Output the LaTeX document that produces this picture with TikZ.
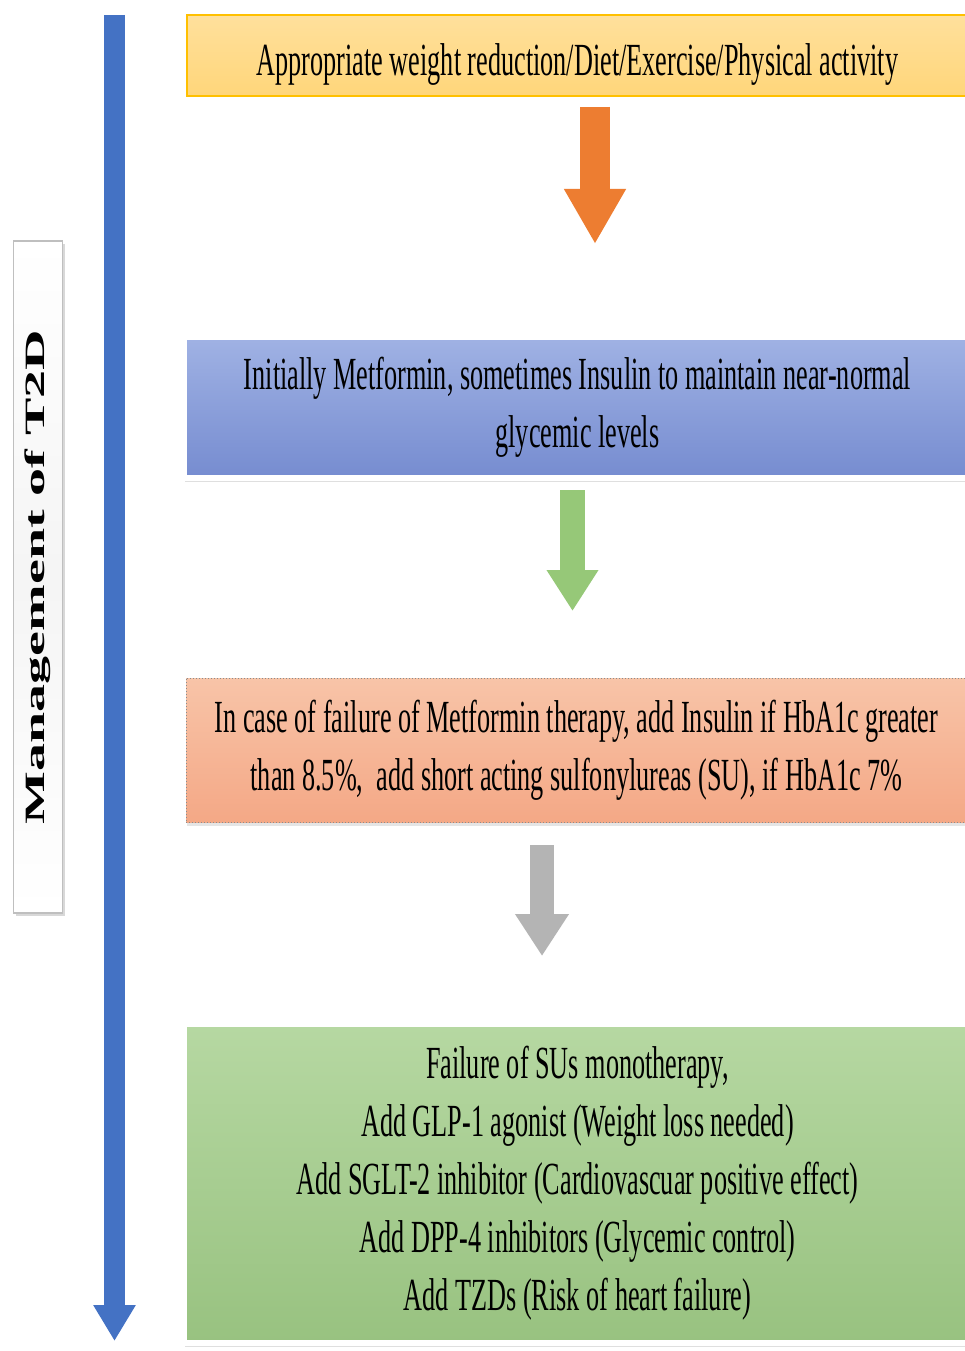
\documentclass[tikz,border=0pt]{standalone}
\usepackage{fontspec}
\setmainfont{Liberation Serif}
\newfontfamily\condserif[FakeStretch=0.57]{Liberation Serif}
\newfontfamily\wideserif[FakeStretch=2.0]{Liberation Serif}
\usetikzlibrary{positioning,arrows.meta,shadows}

\definecolor{bluearrow}{RGB}{68,114,196}
\definecolor{orangearrow}{RGB}{237,125,49}
\definecolor{greenarrow}{RGB}{150,200,120}
\definecolor{greyarrow}{RGB}{180,180,180}
\definecolor{yellowtop}{RGB}{255,224,156}
\definecolor{yellowbot}{RGB}{255,214,122}
\definecolor{yellowline}{RGB}{255,192,0}
\definecolor{bluetop}{RGB}{160,178,228}
\definecolor{bluebot}{RGB}{118,140,208}
\definecolor{salmontop}{RGB}{248,196,168}
\definecolor{salmonbot}{RGB}{244,168,134}
\definecolor{greentop}{RGB}{182,216,162}
\definecolor{greenbot}{RGB}{152,194,128}

\tikzset{
  stepbox/.style={minimum width=781pt, inner sep=0pt, align=center,
    font=\condserif\fontsize{46}{58}\selectfont,
    execute at begin node={\rule{0pt}{50pt}}},
  framed/.style={draw=white, line width=6pt, minimum width=787pt,
    drop shadow={opacity=0.25, shadow xshift=1pt, shadow yshift=-4pt}},
  blockarrow/.style={line width=#1,
    preaction={draw=white, line width=#1+8pt, opacity=0.9}},
}

\begin{document}
\begin{tikzpicture}[x=1pt,y=-1pt]
  \useasboundingbox[fill=white] (0,0) rectangle (964,1351);

  % left label
  \node (label) [minimum width=49pt, minimum height=672pt, inner sep=0,
    top color=white, bottom color=white, middle color=black!4,
    draw=black!25, line width=1.5pt,
    drop shadow={opacity=0.3, shadow xshift=2pt, shadow yshift=-3pt}]
    at (38,577) {};
  \node [rotate=90, font=\wideserif\bfseries\fontsize{28}{30}\selectfont]
    at (label.center) {Management of T2D};

  % long blue arrow on the left
  \coordinate (timeTop) at (114.5,15);
  \coordinate (timeTip) at (114.5,1341);
  \draw [blockarrow=21pt, bluearrow,
    -{Triangle[length=36pt,width=40pt]}] (timeTop) -- (timeTip);

  % steps
  \node (diet) [stepbox, minimum height=81pt, draw=yellowline, line width=1.5pt,
    top color=yellowtop, bottom color=yellowbot] at (577.5,55.5)
    {Appropriate weight reduction/Diet/Exercise/Physical activity};

  \node (met) [stepbox, minimum height=141pt, framed,
    top color=bluetop, bottom color=bluebot] at (577.5,407.5)
    {Initially Metformin, sometimes Insulin to maintain near-normal\\glycemic levels};

  \node (ins) [stepbox, minimum height=144pt, draw=black!45, dotted, line width=1pt,
    top color=salmontop, bottom color=salmonbot,
    drop shadow={opacity=0.2, shadow xshift=1pt, shadow yshift=-4pt}] at (576.5,750)
    {In case of failure of Metformin therapy, add Insulin if HbA1c greater\\than 8.5\%,\ \ add short acting sulfonylureas (SU), if HbA1c 7\%};

  \node (glp) [stepbox, minimum height=319pt, framed,
    top color=greentop, bottom color=greenbot] at (577.5,1183.5)
    {Failure of SUs monotherapy,\\Add GLP-1 agonist (Weight loss needed)\\Add SGLT-2 inhibitor (Cardiovascuar positive effect)\\Add DPP-4 inhibitors (Glycemic control)\\Add TZDs (Risk of heart failure)};

  % arrows between the steps
  \coordinate (a1) at (595,107);
  \coordinate (a1tip) at (595,244);
  \coordinate (a2) at (572.5,490);
  \coordinate (a2tip) at (572.5,611);
  \coordinate (a3) at (542,845);
  \coordinate (a3tip) at (542,956);
  \draw [blockarrow=30pt, orangearrow,
    -{Triangle[length=55pt,width=58pt]}] (a1) -- (a1tip);
  \draw [blockarrow=25pt, greenarrow,
    -{Triangle[length=41pt,width=49pt]}] (a2) -- (a2tip);
  \draw [blockarrow=24pt, greyarrow,
    -{Triangle[length=42pt,width=51pt]}] (a3) -- (a3tip);
\end{tikzpicture}
\end{document}
